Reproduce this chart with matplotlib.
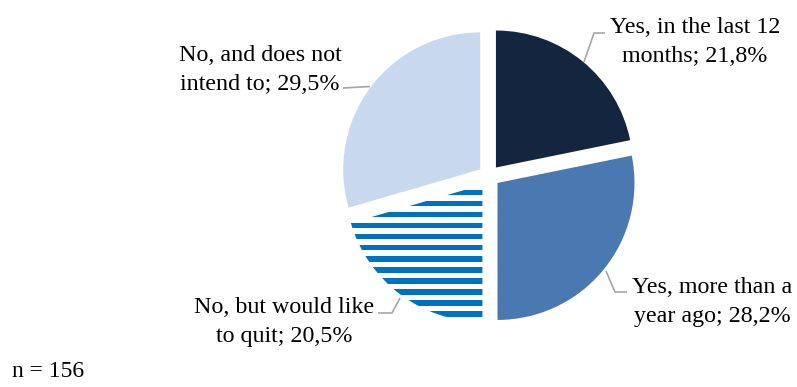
import matplotlib
matplotlib.use("Agg")
import matplotlib.pyplot as plt
from matplotlib.patches import Rectangle

# Survey answers and shares (%)
categories = [
    "Yes, in the last 12\nmonths",
    "Yes, more than a\nyear ago",
    "No, but would like\nto quit",
    "No, and does not\nintend to",
]
shares = [21.8, 28.2, 20.5, 29.5]
sample_note = "n = 156"

colors = ["#13253F", "#4A78B0", "#FFFFFF", "#C8D9EF"]
stripe_color = "#0070C0"
leader_color = "#A6A6A6"

plt.rcParams["font.family"] = ["Liberation Serif", "DejaVu Serif"]

W, H = 797, 387
fig = plt.figure(figsize=(W / 100, H / 100), dpi=100)
ax = fig.add_axes([0, 0, 1, 1])

# pie centre and radius in pixel units (y measured from the top)
CX, CY, R = 489, 176, 137


def px(x, y):
    return ((x - CX) / R, (CY - y) / R)


wedges, _ = ax.pie(
    shares,
    colors=colors,
    startangle=90,
    counterclock=False,
    explode=[0.08] * len(shares),
    radius=1.0,
    wedgeprops=dict(linewidth=0),
)

# horizontal stripes for the third wedge
striped = wedges[2]
y0 = 190
while y0 < 330:
    (xa, ya) = px(300, y0)
    (xb, yb) = px(520, y0 + 5.5)
    rect = Rectangle((xa, yb), xb - xa, ya - yb, facecolor=stripe_color,
                     edgecolor="none", zorder=3)
    ax.add_patch(rect)
    rect.set_clip_path(striped)
    y0 += 11

x_lo, y_hi = px(0, 0)
x_hi, y_lo = px(W, H)
ax.set_xlim(x_lo, x_hi)
ax.set_ylim(y_lo, y_hi)
ax.set_aspect("auto")
ax.axis("off")


def label_text(cat, val):
    return f"{cat}; " + f"{val:.1f}".replace(".", ",") + "%"


# label anchor (centre x, last baseline y) and leader polyline, in pixels
label_pos = [(695, 62), (712, 322), (284, 342), (260, 90)]
leaders = [
    [(605, 33), (594, 33), (584, 62)],
    [(627, 292), (615, 292), (606, 271)],
    [(378, 313), (392, 313), (400, 298)],
    [(343, 88), (370, 86.5)],
]

for cat, val, (lx, ly), pts in zip(categories, shares, label_pos, leaders):
    tx, ty = px(lx, ly)
    ax.text(tx, ty, label_text(cat, val), ha="center", va="baseline",
            fontsize=17.3, color="#000000", linespacing=1.5,
            multialignment="center")
    xs = [px(a, b)[0] for a, b in pts]
    ys = [px(a, b)[1] for a, b in pts]
    ax.plot(xs, ys, color=leader_color, linewidth=1.2, zorder=4,
            solid_capstyle="butt")

nx, ny = px(12, 377)
ax.text(nx, ny, sample_note, ha="left", va="baseline", fontsize=17,
        color="#000000")

fig.savefig("out.png", dpi=100)
